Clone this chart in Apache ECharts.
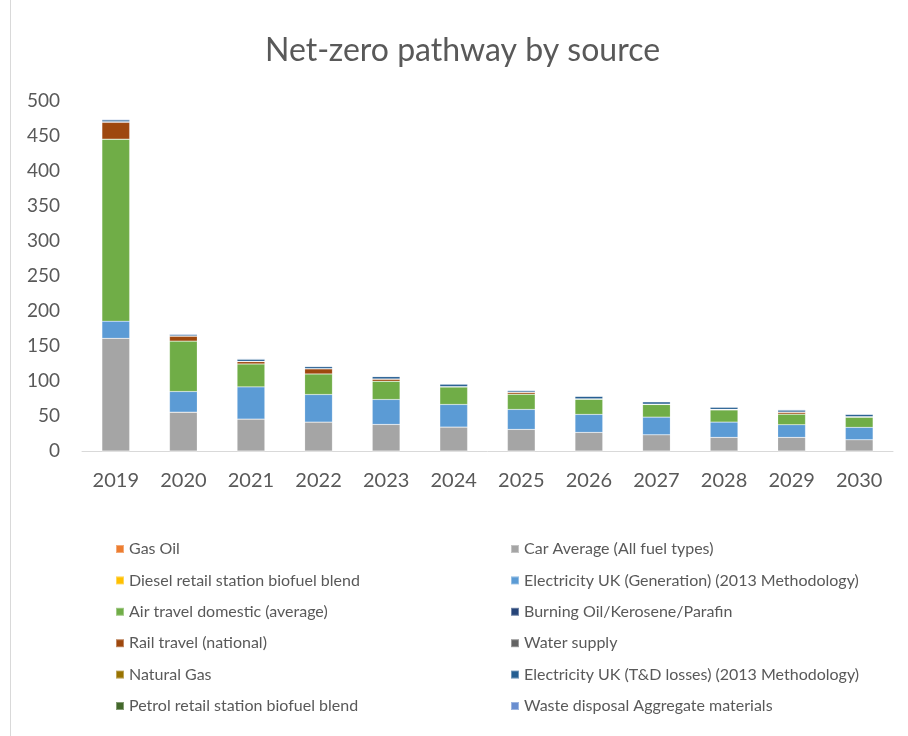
<!DOCTYPE html>
<html>
<head>
<meta charset="utf-8">
<script src="https://cdn.jsdelivr.net/npm/echarts@6/dist/echarts.min.js"></script>
<style>
  html, body { margin: 0; padding: 0; background: #fff; }
  #chart { width: 908px; height: 736px; }
</style>
</head>
<body>
<div id="chart"></div>
<script>
// categories
const years = ["2019", "2020", "2021", "2022", "2023", "2024", "2025", "2026", "2027", "2028", "2029", "2030"];

// series values (tCO2e)
const gasOil = [0, 0, 0, 0, 0, 0, 0, 0, 0, 0, 0, 0];
const carAverage = [161, 55.5, 45.6, 41.3, 38, 34.2, 30.9, 26.6, 23.2, 19.5, 19.5, 16.1];
const dieselBiofuel = [0, 0, 0, 0, 0, 0, 0, 0, 0, 0, 0, 0];
const elecGeneration = [24.5, 29.5, 46, 39.4, 35.6, 32.3, 28.5, 25.7, 25.2, 21.8, 18, 17.7];
const airTravel = [260, 72, 32.8, 29.4, 26.1, 25.1, 21.8, 21.8, 18.1, 17.5, 15.2, 14.6];
const burningOil = [0, 0, 0, 0, 0, 0, 0, 0, 0, 0, 0, 0];
const railTravel = [24, 7, 3.3, 7.2, 2.8, 0, 2.5, 0, 0, 0, 2.5, 0];
const waterSupply = [1, 0.5, 0.5, 0.5, 0.5, 0.5, 0.5, 0.5, 0.5, 0.8, 0.5, 0.8];
const naturalGas = [0, 0, 0, 0, 0, 0, 0, 0, 0, 0, 0, 0];
const elecTDLosses = [2.5, 2, 3, 2.8, 3.3, 3.5, 2, 3.5, 3.3, 3, 2.8, 3.2];
const petrolBiofuel = [0, 0, 0, 0, 0, 0, 0, 0, 0, 0, 0, 0];
const wasteAggregate = [1, 1, 0.8, 0.8, 0.5, 0.3, 1, 0.3, 0.3, 0.3, 0.8, 0.3];

// y axis ticks
const yMin = 0;
const yMax = 500;
const yStep = 50;

const seriesDefs = [
  { name: "Gas Oil", data: gasOil, color: "#ED7D31" },
  { name: "Car Average (All fuel types)", data: carAverage, color: "#A5A5A5" },
  { name: "Diesel retail station biofuel blend", data: dieselBiofuel, color: "#FFC000" },
  { name: "Electricity UK (Generation) (2013 Methodology)", data: elecGeneration, color: "#5B9BD5" },
  { name: "Air travel domestic (average)", data: airTravel, color: "#70AD47" },
  { name: "Burning Oil/Kerosene/Parafin", data: burningOil, color: "#264478" },
  { name: "Rail travel (national)", data: railTravel, color: "#9E480E" },
  { name: "Water supply", data: waterSupply, color: "#636363" },
  { name: "Natural Gas", data: naturalGas, color: "#997300" },
  { name: "Electricity UK (T&D losses) (2013 Methodology)", data: elecTDLosses, color: "#255E91" },
  { name: "Petrol retail station biofuel blend", data: petrolBiofuel, color: "#43682B" },
  { name: "Waste disposal Aggregate materials", data: wasteAggregate, color: "#698ED0" }
];

const fontFamily = "Lato, 'Open Sans', sans-serif";
const textColor = "#595959";

const legendStyle = {
  orient: "vertical",
  itemWidth: 8,
  itemHeight: 8,
  itemGap: 15.4,
  icon: "rect",
  textStyle: { color: textColor, fontSize: 16, fontFamily: fontFamily, lineHeight: 16 }
};

const options = {
  animation: false,
  title: {
    text: "Net-zero pathway by source",
    left: 260,
    top: 30,
    textStyle: { color: textColor, fontSize: 32, fontWeight: "normal", fontFamily: fontFamily }
  },
  legend: [
    Object.assign({}, legendStyle, {
      left: 110,
      top: 536,
      data: seriesDefs.filter((s, i) => i % 2 === 0).map(s => s.name)
    }),
    Object.assign({}, legendStyle, {
      left: 505,
      top: 536,
      data: seriesDefs.filter((s, i) => i % 2 === 1).map(s => s.name)
    })
  ],
  grid: { left: 82, right: 15, top: 101, bottom: 285, containLabel: false },
  xAxis: {
    type: "category",
    data: years,
    axisLine: { lineStyle: { color: "#D9D9D9", width: 1 } },
    axisTick: { show: false },
    axisLabel: { color: textColor, fontSize: 20, fontFamily: fontFamily, margin: 20 }
  },
  yAxis: {
    type: "value",
    min: yMin,
    max: yMax,
    interval: yStep,
    axisLine: { show: false },
    axisTick: { show: false },
    splitLine: { show: false },
    axisLabel: { color: textColor, fontSize: 19, fontFamily: fontFamily, margin: 22 }
  },
  graphic: [
    {
      type: "line",
      shape: { x1: 10.5, y1: 0, x2: 10.5, y2: 736 },
      style: { stroke: "#D9D9D9", lineWidth: 1 }
    }
  ],
  series: seriesDefs.map(s => ({
    name: s.name,
    type: "bar",
    stack: "total",
    barWidth: "41%",
    data: s.data,
    itemStyle: { color: s.color, borderColor: "rgba(255,255,255,0.35)", borderWidth: 0.5 }
  }))
};

const mychart = echarts.init(document.getElementById("chart"));
mychart.setOption(options);
</script>
</body>
</html>
